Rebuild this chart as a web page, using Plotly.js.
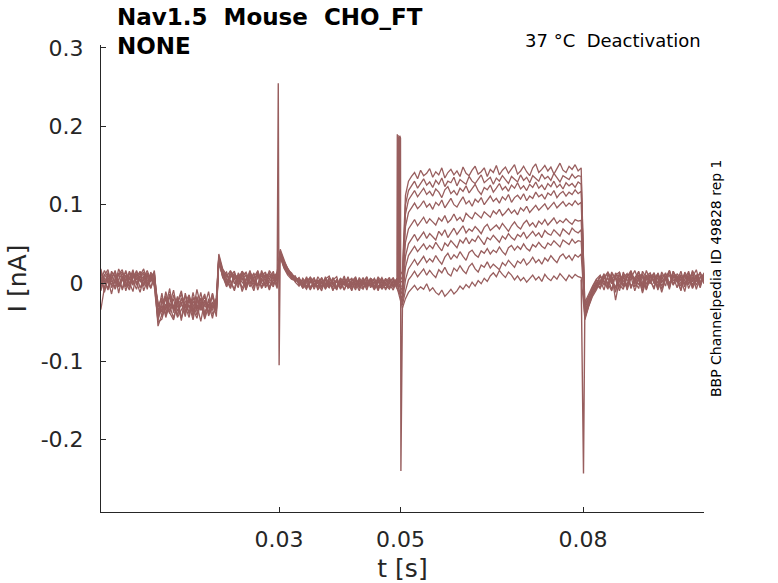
<!DOCTYPE html>
<html>
<head>
<meta charset="utf-8">
<script src="https://cdn.plot.ly/plotly-3.0.1.min.js"></script>
<style>
html, body { margin: 0; padding: 0; background: #fff; }
#chart { width: 778px; height: 583px; }
</style>
</head>
<body>
<div id="chart"></div>
<script>
// sweep segments: start / end time [s] of each stretch between the protocol steps
var segStart = [0.0007, 0.0101, 0.0201, 0.0302, 0.0503, 0.0803];
var segEnd   = [0.0095, 0.0197, 0.0297, 0.0494, 0.0797, 0.0999];

// currents in pA, one row per sweep (10 sweeps)
var preStep = [
    [6, -8, 14, 2, -5, 11, 17, 0, -9, 8, 15, 3, -4, 12, 6, -2],
    [-34, -6, 12, 4, 16, -3, 9, -10, 7, 13, -1, 10, 18, 2, -7, 9],
    [12, 3, -7, 15, 8, -4, 6, 14, -2, 10, 1, -12, 7, 16, 4, 11],
    [-2, 10, 17, -6, 4, 13, -9, 5, 12, 0, 8, 15, -3, 6, 11, -5],
    [9, -12, 5, 11, -1, 18, 7, -4, 13, 3, -8, 9, 14, -2, 5, 12],
    [-10, 7, 0, 13, 9, -5, 3, 16, 1, -11, 12, 6, -1, 10, -6, 8],
    [15, 2, -9, 8, 14, 1, -7, 10, 4, 17, -3, 7, 12, -8, 14, 3],
    [3, 16, 7, -3, 11, -13, 9, 2, 15, 6, 10, -6, 4, 13, 1, 16],
    [-6, 11, 4, -14, 6, 10, 14, -5, 8, -3, 16, 2, 9, -4, 10, 0],
    [18, -1, 9, 6, -8, 5, 12, 8, -6, 14, 4, 13, -10, 3, 8, 14]
];

var lowStep = [
    [-48, -22, -35, -14, -30, -41, -19, -27, -38, -12, -33, -24, -44, -20, -31, -26],
    [-55, -40, -18, -29, -45, -24, -10, -36, -28, -47, -21, -32, -16, -39, -25, -34],
    [-38, -13, -42, -26, -33, -17, -45, -29, -20, -37, -8, -30, -41, -23, -35, -19],
    [-50, -46, -27, -39, -15, -31, -24, -43, -18, -34, -28, -49, -22, -30, -14, -37],
    [-30, -19, -44, -25, -9, -36, -28, -16, -40, -23, -33, -12, -38, -27, -45, -21],
    [-42, -33, -20, -38, -47, -26, -14, -31, -22, -43, -17, -35, -29, -11, -40, -32],
    [-28, -37, -11, -31, -20, -44, -34, -25, -15, -39, -26, -21, -46, -30, -18, -36],
    [-46, -29, -40, -17, -34, -23, -48, -13, -32, -27, -41, -19, -28, -37, -24, -43],
    [-24, -43, -30, -7, -38, -21, -27, -39, -16, -33, -45, -25, -14, -42, -29, -20],
    [-40, -26, -16, -35, -28, -42, -20, -30, -44, -18, -36, -31, -23, -39, -13, -34]
];

var midBase = [
    [34, 16, 4, -7, 12, 6, 15, -3, 9, 1, 14, -6, 8, 13, -1, 10],
    [30, 12, -5, 9, 15, -2, 7, -9, 11, 3, -4, 16, 5, -8, 12, 2],
    [37, 18, 10, 2, -8, 13, 4, 11, -5, 8, 15, 0, -3, 9, 6, 14],
    [27, 9, 14, -3, 6, 10, -11, 3, 16, -2, 7, 12, -6, 4, 15, -4],
    [33, 14, 0, 12, 5, -6, 15, 8, -1, 13, -9, 6, 10, 1, -5, 11],
    [31, 7, 11, 3, -10, 8, 1, -4, 14, 6, 11, -7, 2, 16, 8, -2],
    [35, 13, -2, 15, 8, 1, 11, -8, 5, 12, -3, 9, 14, -5, 3, 13],
    [29, 11, 6, -6, 13, -3, 9, 14, 2, -10, 10, 4, -1, 12, 7, -7],
    [32, 15, 8, 16, -1, 10, -7, 6, 12, 4, -4, 13, 8, -9, 11, 5],
    [26, 8, -4, 7, 11, 3, 14, -2, 9, -6, 16, 1, 12, 6, -3, 9]
];

var tailBase = [
    [40, 28, 19, 11, 8, 2, -5, 6, -8, 3, -1, -10, 5, -4, 7, -6, 1, -9, 4, -2, 8, -7, 0, -3, 6, -8, 2, -5, 5, -1, -9, 3],
    [36, 24, 15, 9, 3, 7, -2, -8, 4, -5, 8, 0, -7, 3, -10, 5, -3, 6, -6, 1, -9, 4, -2, 7, -4, 2, -8, 5, -1, -6, 4, -3],
    [43, 30, 17, 13, 5, 0, 4, -6, 1, 7, -9, 2, -4, 6, -1, -8, 3, -3, 8, -5, 0, -10, 5, -2, 3, -7, 6, -4, 1, 7, -6, 0],
    [34, 21, 14, 6, 9, -3, 1, 5, -7, -2, 4, -5, 8, -3, 2, -9, 6, -1, -5, 3, 7, -4, -8, 2, -1, 5, -6, 3, -9, 2, 6, -4],
    [38, 25, 16, 10, 2, 4, -7, 3, 7, -4, 1, 6, -8, 0, -5, 4, -2, 9, -7, -3, 5, -1, 3, -9, 6, -5, 0, 7, -3, -8, 1, 5],
    [39, 26, 13, 8, 6, -1, 3, -4, 2, 6, -8, -3, 4, -6, 5, 1, -7, 3, 0, -10, 4, -2, 7, -5, -1, 6, -3, -7, 4, 0, -4, 6],
    [37, 22, 18, 7, 4, 5, -3, 8, -5, 0, -6, 7, -2, 3, -8, -4, 6, 1, -6, 5, -3, 2, -7, 4, 0, -9, 3, -2, 6, -5, 2, -7],
    [41, 27, 14, 12, 1, -4, 6, 0, -9, 4, 2, -7, 5, 9, -3, 2, -5, 0, 6, -8, 3, -4, 1, 8, -6, 0, 4, -8, -2, 5, -3, 1],
    [35, 20, 12, 9, 7, 1, -6, 2, 5, -8, 3, -1, -4, 7, 0, -6, 4, -9, 2, 6, -3, 5, -5, 0, 3, -4, 8, 1, -7, 3, -2, 4],
    [33, 19, 10, 5, 3, 6, -2, -5, 8, -1, -4, 5, 0, -6, 4, 8, -8, 2, -3, 1, -6, 7, -1, -5, 6, 2, -10, 4, -3, 0, 7, -5]
];

var testPulse = [
    [15, 112, 130, 136, 141, 133, 144, 137, 140, 146, 135, 142, 138, 147, 134, 141, 145, 138, 143, 136, 148, 140, 137, 144, 149, 139, 142, 147, 136, 145, 141, 150, 138, 144, 148, 140, 146, 151, 139, 143, 149, 142, 137, 147, 152, 141, 145, 150, 143, 148, 139, 146, 153, 144, 141, 149, 145, 151, 143, 147],
    [8, 100, 118, 124, 130, 121, 127, 133, 125, 129, 122, 131, 126, 134, 123, 130, 128, 135, 124, 132, 129, 126, 136, 130, 127, 133, 138, 128, 131, 135, 126, 134, 130, 137, 132, 127, 136, 133, 129, 138, 131, 135, 128, 137, 134, 130, 139, 133, 136, 131, 140, 134, 129, 137, 135, 132, 139, 134, 137, 136],
    [2, 88, 106, 112, 118, 110, 115, 121, 113, 117, 111, 120, 116, 109, 119, 123, 114, 118, 112, 121, 117, 124, 115, 120, 126, 118, 113, 122, 119, 125, 116, 121, 127, 119, 123, 117, 125, 121, 128, 120, 124, 118, 126, 122, 129, 121, 125, 119, 127, 123, 130, 122, 126, 120, 128, 124, 127, 122, 129, 126],
    [-4, 72, 90, 96, 102, 95, 99, 105, 97, 101, 94, 103, 99, 106, 96, 102, 108, 100, 97, 104, 110, 101, 105, 98, 107, 103, 109, 100, 106, 111, 104, 108, 102, 110, 106, 113, 103, 109, 112, 107, 114, 105, 111, 108, 116, 110, 113, 107, 115, 112, 118, 109, 114, 117, 111, 116, 113, 119, 114, 117],
    [-10, 52, 69, 75, 81, 73, 79, 84, 76, 82, 78, 74, 83, 79, 86, 77, 81, 88, 80, 84, 78, 89, 85, 82, 90, 86, 83, 91, 87, 84, 92, 88, 94, 86, 90, 95, 89, 93, 87, 96, 92, 98, 90, 95, 99, 93, 97, 101, 94, 99, 103, 96, 100, 104, 98, 102, 99, 105, 100, 103],
    [-16, 34, 50, 56, 62, 54, 60, 65, 57, 63, 59, 55, 66, 61, 68, 58, 64, 70, 62, 67, 73, 64, 69, 66, 72, 68, 63, 71, 75, 67, 70, 74, 69, 76, 71, 66, 73, 78, 72, 69, 76, 80, 73, 77, 71, 79, 75, 81, 74, 78, 83, 76, 80, 77, 82, 78, 75, 81, 79, 80],
    [-20, 20, 35, 41, 47, 40, 45, 50, 43, 48, 44, 52, 46, 41, 51, 47, 54, 49, 45, 55, 51, 58, 50, 56, 53, 60, 54, 49, 58, 55, 61, 57, 52, 60, 56, 63, 58, 55, 62, 59, 65, 57, 62, 66, 60, 64, 58, 67, 63, 61, 68, 64, 60, 69, 65, 62, 70, 66, 64, 68],
    [-25, 4, 18, 24, 30, 23, 28, 34, 26, 31, 27, 35, 29, 24, 33, 38, 30, 36, 32, 40, 34, 29, 39, 42, 36, 33, 41, 38, 44, 37, 42, 39, 46, 40, 36, 45, 48, 42, 47, 43, 50, 44, 41, 49, 46, 52, 47, 44, 51, 48, 54, 50, 46, 55, 52, 49, 56, 51, 54, 53],
    [-28, -10, 4, 9, 15, 8, 13, 18, 10, 16, 11, 7, 17, 13, 20, 12, 9, 19, 15, 22, 16, 12, 21, 25, 18, 14, 23, 20, 27, 19, 24, 21, 17, 26, 22, 29, 24, 20, 28, 25, 31, 23, 27, 33, 26, 30, 24, 32, 28, 35, 30, 26, 34, 37, 31, 35, 29, 36, 33, 37],
    [-32, -20, -12, -7, -3, -9, -5, -8, -1, -10, -6, -12, -15, -9, -17, -13, -8, -14, -10, -4, -8, -2, -6, 1, -4, 3, -1, 6, 2, 9, 13, 8, 16, 11, 7, 14, 10, 4, 9, 3, 7, 1, 6, 10, 4, 8, 2, 11, 6, 3, 9, 5, 12, 7, 3, 10, 6, 11, 8, 7]
];

var afterPulse = [
    [-40, -26, -14, -6, 4, -9, 11, 2, -7, 14, -3, 8, 16, -5, 6, -11, 10, 3, -6, 13, 0, 9, -8, 15, 4, -4, 11, -1, 7, 17, -2, 9],
    [-30, -18, -8, 1, -6, 9, -2, 14, 5, -10, 7, 12, -4, 3, 15, -7, 8, 1, 13, -5, 6, 11, -3, 10, 2, -9, 14, 5, -2, 8, 12, 3],
    [-47, -30, -17, -9, 2, 12, -4, 7, -12, 10, 3, -6, 14, 1, 9, -3, 16, 5, -8, 11, 2, 7, -5, 13, 8, -1, 4, 15, -6, 10, 1, 6],
    [-25, -14, -4, 5, 10, -3, 7, -9, 12, 2, 8, -5, 15, 4, -2, 11, -8, 6, 13, 0, 9, -4, 16, 3, 7, -10, 10, 2, 14, -3, 8, 11],
    [-38, -23, -11, -2, -7, 6, 13, -1, 9, -6, 14, 3, 8, -10, 5, 12, -2, 10, 4, -7, 11, 6, -3, 15, 1, 9, -5, 12, 6, 2, 14, -1],
    [-33, -20, -9, -3, 8, 1, -8, 11, -22, 4, 9, -4, 12, 2, -7, 15, 6, -1, 10, -9, 5, 13, 0, 8, -6, 11, 3, -2, 16, 7, -4, 10],
    [-43, -27, -13, -5, 3, 10, -1, -10, 13, 6, -4, 11, -7, 7, 14, 1, -5, 9, 3, 12, -8, 6, 15, -3, 9, 4, -11, 13, 2, 8, -6, 11],
    [-28, -16, -6, 4, -2, 7, 14, 5, -5, 2, 11, -9, 6, 16, 3, -4, 9, 13, -1, 7, -12, 5, 10, -2, 12, 6, 0, 9, -7, 4, 13, 2],
    [-36, -22, -10, 0, 9, 3, -6, 12, 6, -2, -8, 8, 13, -1, 10, -13, 4, 11, 7, -4, 14, 5, -6, 10, 3, 15, -2, 6, 11, -8, 7, 4],
    [-45, -29, -15, -7, 1, 8, -3, 5, 10, 14, -5, -1, 11, 4, 13, 7, -9, 9, 2, 12, -4, 6, 16, -2, 8, 3, 12, -7, 5, 10, 1, 13]
];

// fast capacitive transients at the voltage steps (time [s], current [nA])
var spikeT = [0.0297, 0.02988, 0.03002, 0.0302, null,
              0.0494, 0.04946, 0.04953, 0.04958, 0.04966, 0.04972, 0.04980, 0.04986, 0.04998, 0.05005, 0.0503, null,
              0.0797, 0.08008, 0.0803];
var spikeI = [0.006, 0.255, -0.105, 0.038, null,
              -0.002, 0.19, 0.0, 0.189, 0.0, 0.187, 0.0, 0.188, 0.185, -0.24, -0.03, null,
              0.004, -0.243, -0.035];

var lineColor = 'rgb(152, 94, 94)';

function segTimes(k, n) {
    var out = [];
    for (var i = 0; i < n; i++) {
        out.push(segStart[k] + (segEnd[k] - segStart[k]) * i / (n - 1));
    }
    return out;
}

var segments = [preStep, lowStep, midBase, tailBase, testPulse, afterPulse];
var data = [];

for (var s = 0; s < preStep.length; s++) {
    var x = [];
    var y = [];
    for (var k = 0; k < segments.length; k++) {
        var vals = segments[k][s];
        var tt = segTimes(k, vals.length);
        for (var i = 0; i < vals.length; i++) {
            x.push(tt[i]);
            y.push(vals[i] / 1000);
        }
    }
    data.push({
        type: 'scatter',
        mode: 'lines',
        x: x,
        y: y,
        line: { color: lineColor, width: 1.3 },
        hoverinfo: 'skip',
        showlegend: false
    });
}

data.push({
    type: 'scatter',
    mode: 'lines',
    x: spikeT,
    y: spikeI,
    connectgaps: false,
    line: { color: lineColor, width: 1.4 },
    hoverinfo: 'skip',
    showlegend: false
});

var font = 'DejaVu Sans, Liberation Sans, sans-serif';
var ink = '#262626';

var layout = {
    width: 778,
    height: 583,
    margin: { l: 101, r: 74, t: 45, b: 71 },
    paper_bgcolor: '#fff',
    plot_bgcolor: '#fff',
    showlegend: false,
    font: { family: font, color: ink },
    xaxis: {
        range: [0.000724, 0.0999],
        tickvals: [0.03, 0.05, 0.08],
        ticktext: ['0.03', '0.05', '0.08'],
        ticks: 'inside',
        ticklen: 5,
        tickcolor: ink,
        showline: true,
        linecolor: ink,
        linewidth: 1,
        showgrid: false,
        zeroline: false,
        tickfont: { family: font, size: 22, color: ink },
        ticklabelstandoff: 8,
        title: { text: 't [s]', font: { family: font, size: 25, color: ink }, standoff: 8 }
    },
    yaxis: {
        range: [-0.2923, 0.3038],
        tickvals: [-0.2, -0.1, 0, 0.1, 0.2, 0.3],
        ticktext: ['-0.2', '-0.1', '0', '0.1', '0.2', '0.3'],
        ticks: 'inside',
        ticklen: 5,
        tickcolor: ink,
        showline: true,
        linecolor: ink,
        linewidth: 1,
        showgrid: false,
        zeroline: false,
        tickfont: { family: font, size: 22, color: ink },
        ticklabelstandoff: 12,
        title: { text: 'I [nA]', font: { family: font, size: 25, color: ink }, standoff: 6 }
    },
    annotations: [
        {
            text: '<b>Nav1.5\u00a0\u00a0Mouse\u00a0\u00a0CHO_FT</b>',
            xref: 'paper', yref: 'paper', x: 0.0232, y: 1.06,
            xanchor: 'left', yanchor: 'middle', showarrow: false,
            font: { family: font, size: 23, color: '#000' }
        },
        {
            text: '<b>NONE</b>',
            xref: 'paper', yref: 'paper', x: 0.0232, y: 0.998,
            xanchor: 'left', yanchor: 'middle', showarrow: false,
            font: { family: font, size: 23, color: '#000' }
        },
        {
            text: '37 \u00b0C\u00a0\u00a0Deactivation',
            xref: 'paper', yref: 'paper', x: 0.9983, y: 1.0086,
            xanchor: 'right', yanchor: 'middle', showarrow: false,
            font: { family: font, size: 18, color: '#000' }
        },
        {
            text: 'BBP Channelpedia ID 49828 rep 1',
            xref: 'paper', yref: 'paper', x: 1.0199, y: 0.501,
            xanchor: 'center', yanchor: 'middle', showarrow: false,
            textangle: -90,
            font: { family: font, size: 14, color: '#000' }
        }
    ]
};

var config = { displayModeBar: false, staticPlot: true };
Plotly.newPlot('chart', data, layout, config);
</script>
</body>
</html>
